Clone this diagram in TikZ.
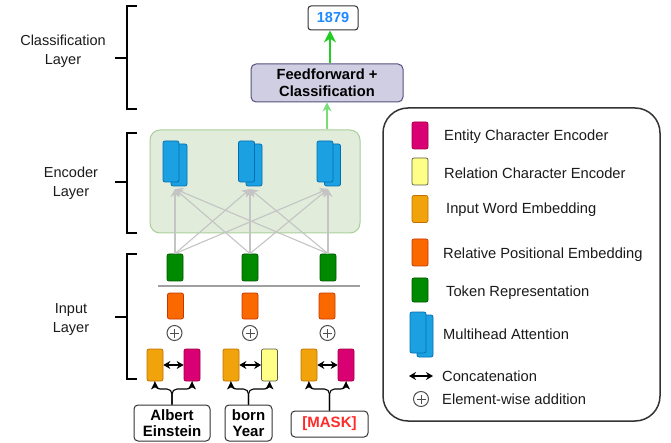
\documentclass[tikz,border=0pt]{standalone}
\usepackage{fontspec}
\setmainfont{Liberation Sans}
\usetikzlibrary{arrows.meta,calc}
\definecolor{cMag}{HTML}{D80073}\definecolor{cMagD}{HTML}{A50040}
\definecolor{cYel}{HTML}{FFFF88}\definecolor{cYelD}{HTML}{5A5A4A}
\definecolor{cOra}{HTML}{F0A30A}\definecolor{cOraD}{HTML}{BD7000}
\definecolor{cPos}{HTML}{FA6800}\definecolor{cPosD}{HTML}{C73500}
\definecolor{cGrn}{HTML}{008A00}\definecolor{cGrnD}{HTML}{005700}
\definecolor{cBlu}{HTML}{1BA1E2}\definecolor{cBluD}{HTML}{006EAF}
\definecolor{cLav}{HTML}{D0CEE2}\definecolor{cLavD}{HTML}{56517E}
\definecolor{cEnc}{HTML}{E1ECDB}\definecolor{cEncD}{HTML}{A9CF98}
\definecolor{cGreenA}{HTML}{22CC22}\definecolor{cGreenB}{HTML}{77DD77}
\definecolor{cGray}{HTML}{C4C4C4}\definecolor{cLine}{HTML}{A0A0A0}
\definecolor{cNum}{HTML}{1E88FF}\definecolor{cMask}{HTML}{FF2A2A}
\definecolor{cPlus}{HTML}{505050}\definecolor{cTxt}{HTML}{1A1A1A}
\tikzset{
 blk/.style={rectangle, rounded corners=2pt, inner sep=0pt, line width=0.7pt, minimum width=16pt},
 ent/.style={blk, fill=cMag, draw=cMagD, minimum height=32pt},
 rel/.style={blk, fill=cYel, draw=cYelD, minimum height=32pt},
 wrd/.style={blk, fill=cOra, draw=cOraD, minimum height=32pt},
 relpos/.style={blk, fill=cPos, draw=cPosD, minimum height=26pt},
 tokn/.style={blk, fill=cGrn, draw=cGrnD, minimum height=27pt},
 mhead/.style={blk, fill=cBlu, draw=cBluD, minimum height=41pt},
 plus/.style={circle, draw=cPlus, line width=1pt, minimum size=15pt, inner sep=0pt,
   path picture={\draw[cPlus, line width=1pt]
     ([xshift=-4.5pt]path picture bounding box.center) -- ([xshift=4.5pt]path picture bounding box.center)
     ([yshift=-4.5pt]path picture bounding box.center) -- ([yshift=4.5pt]path picture bounding box.center);}},
 concat/.style={{Stealth[length=7pt,width=8pt]}-{Stealth[length=7pt,width=8pt]}, line width=1.6pt, black},
 feed/.style={-{Stealth[length=8pt,width=8pt,inset=2pt]}, line width=1.1pt, black, rounded corners=5pt},
 attn/.style={-{Stealth[length=8pt,width=9pt]}, line width=1.1pt, cGray},
 inbox/.style={draw=black!80, line width=1pt, rounded corners=4pt, align=center,
   font=\bfseries\fontsize{15}{16}\selectfont, inner sep=0pt},
 brk/.style={line width=1.8pt, black},
 lbl/.style={align=center, text=cTxt, font=\fontsize{14.5}{19}\selectfont},
 legtxt/.style={anchor=west, inner sep=0pt, text=cTxt},
}
\begin{document}
\begin{tikzpicture}[x=1pt,y=-1pt, font=\fontsize{14.7}{17}\selectfont]
\useasboundingbox (0,0) rectangle (671,443);
% ---------- brackets and layer labels
\node[lbl] (lc) at (63,51.5) {Classification\\Layer};
\node[lbl] (le) at (71,183) {Encoder\\Layer};
\node[lbl] (li) at (71,319.5) {Input\\Layer};
\draw[brk] (137,6) -- (127,6) -- (127,109) -- (137,109);
\draw[brk] (115,58) -- (127,58);
\draw[brk] (137,133) -- (127,133) -- (127,233) -- (137,233);
\draw[brk] (115,182) -- (127,182);
\draw[brk] (137,254) -- (127,254) -- (127,379) -- (137,379);
\draw[brk] (115,317) -- (127,317);
% ---------- classification
\node[draw=black!80, line width=1pt, rounded corners=3pt, minimum width=50pt, minimum height=24pt,
  inner sep=0pt, text=cNum, font=\bfseries\fontsize{14.5}{17}\selectfont] (out) at (333,18) {1879};
\node[draw=cLavD, fill=cLav, line width=1pt, rounded corners=5pt, minimum width=152pt, minimum height=38pt,
  inner sep=0pt, align=center, font=\bfseries\fontsize{14.7}{17}\selectfont] (ff) at (327,83) {Feedforward +\\Classification};
\draw[cGreenA, line width=2pt, -{Stealth[length=12pt,width=12pt]}] ([xshift=3pt]ff.north) -- ([xshift=-3pt]out.south);
% ---------- encoder
\node[draw=cEncD, fill=cEnc, line width=1pt, rounded corners=10pt, minimum width=210pt, minimum height=103pt] (enc) at (255,181.5) {};
\draw[cGreenB, line width=1.6pt, -{Stealth[length=9pt,width=9pt]}] (ff.south |- enc.north) -- (ff.south);
% tokens
\node[tokn] (t1) at (175,267.5) {};
\node[tokn] (t2) at (250,267.5) {};
\node[tokn] (t3) at (328,267.5) {};
\coordinate (a1) at (175,189);
\coordinate (a2) at (250,189);
\coordinate (a3) at (328,189);
\foreach \t in {t1,t2,t3}{\foreach \a in {a1,a2,a3}{\draw[attn] (\t.north) -- (\a);}}
% multihead attention icons
\node[mhead, minimum height=42pt] (m1b) at (179,165) {};
\node[mhead] (m1) at (171,161.5) {};
\node[mhead, minimum height=42pt] (m2b) at (254,165) {};
\node[mhead] (m2) at (246.5,161.5) {};
\node[mhead, minimum height=42pt] (m3b) at (332.5,165) {};
\node[mhead] (m3) at (325,161.5) {};
% separator
\draw[cLine, line width=1.2pt] (158,286) -- (360,286);
% positional
\node[relpos] (p1) at (175.5,306) {};
\node[relpos] (p2) at (250,306) {};
\node[relpos] (p3) at (327,306) {};
\node[plus] (s1) at (174.5,333) {};
\node[plus] (s2) at (250,333) {};
\node[plus] (s3) at (327.5,333) {};
% pairs
\node[wrd] (w1) at (155,365) {};
\node[ent] (e1) at (192,365) {};
\node[wrd] (w2) at (231,365) {};
\node[rel] (r2) at (269.5,365) {};
\node[wrd] (w3) at (309,365) {};
\node[ent] (e3) at (346,365) {};
\draw[concat] (w1.east) -- (e1.west);
\draw[concat] (w2.east) -- (r2.west);
\draw[concat] (w3.east) -- (e3.west);
% input words
\node[inbox, minimum width=76pt, minimum height=36pt] (x1) at (172,423) {Albert\\Einstein};
\node[inbox, minimum width=47pt, minimum height=36pt] (x2) at (248.5,423) {born\\Year};
\node[inbox, minimum width=77pt, minimum height=26pt, text=cMask] (x3) at (329.5,424) {[MASK]};
\coordinate (jn) at (0,389);
\draw[feed] (x1.north) -- (x1.north |- jn) -| (w1.south);
\draw[feed] (x1.north) -- (x1.north |- jn) -| (e1.south);
\draw[feed] (x2.north) -- (x2.north |- jn) -| (w2.south);
\draw[feed] (x2.north) -- (x2.north |- jn) -| (r2.south);
\draw[feed] (x3.north) -- (x3.north |- jn) -| (w3.south);
\draw[feed] (x3.north) -- (x3.north |- jn) -| (e3.south);
% ---------- legend
\node[draw=black!80, line width=1.5pt, rounded corners=25pt, minimum width=277pt, minimum height=313pt] (leg) at (521.5,264.5) {};
\node[ent, minimum height=27pt] (g1) at (420,135.5) {};
\node[legtxt] at (444,137) {Entity Character Encoder};
\node[rel, minimum height=27pt] (g2) at (420,171.5) {};
\node[legtxt] at (444,173) {Relation Character Encoder};
\node[wrd, minimum height=27pt] (g3) at (420,209) {};
\node[legtxt] at (446,210) {Input Word Embedding};
\node[relpos, minimum height=27pt] (g4) at (420,252.5) {};
\node[legtxt] at (443,255) {Relative Positional Embedding};
\node[tokn, minimum height=24pt] (g5) at (420,290) {};
\node[legtxt] at (446,293) {Token Representation};
\node[mhead, minimum height=42pt] (g6b) at (425,336) {};
\node[mhead] (g6) at (418,332.5) {};
\node[legtxt] at (443,334) {Multihead Attention};
\coordinate (c1) at (409,376);
\coordinate (c2) at (433,376);
\draw[concat] (c1) -- (c2);
\node[legtxt] at (442,376) {Concatenation};
\node[plus] (g8) at (421,399) {};
\node[legtxt] at (442,399) {Element-wise addition};
\end{tikzpicture}
\end{document}
